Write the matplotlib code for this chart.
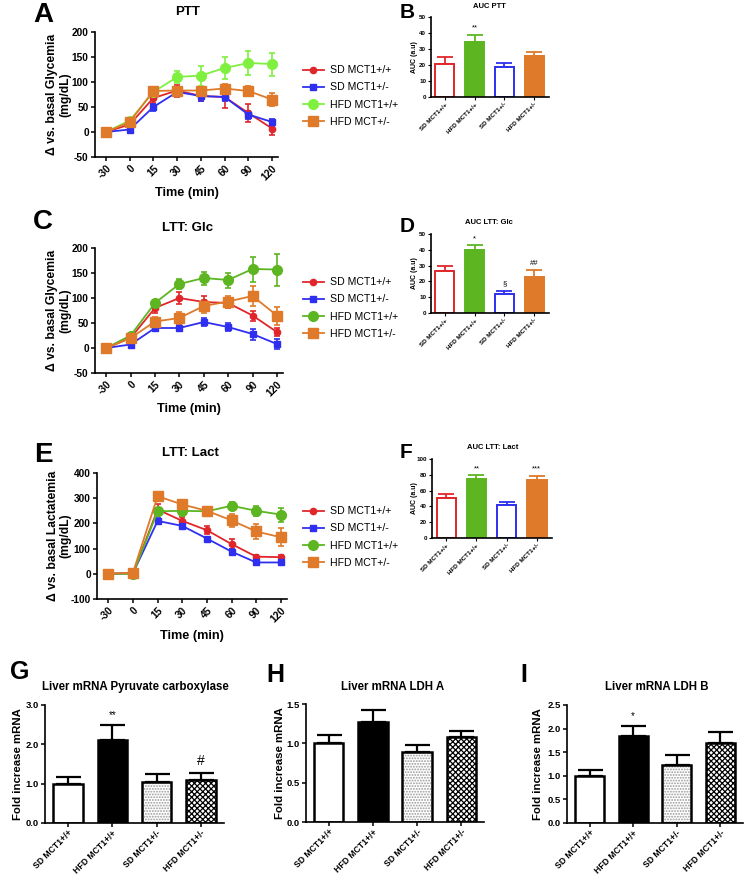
import matplotlib
matplotlib.use("Agg")
import matplotlib.pyplot as plt
from matplotlib.lines import Line2D
import numpy as np

plt.rcParams["font.family"] = ["Liberation Sans", "DejaVu Sans"]
plt.rcParams["font.weight"] = "bold"
plt.rcParams["axes.labelweight"] = "bold"
plt.rcParams["axes.titleweight"] = "bold"
plt.rcParams["axes.linewidth"] = 1.2
plt.rcParams["axes.unicode_minus"] = False
plt.rcParams["hatch.linewidth"] = 0.9

W, H = 746, 876

# ---- data ----
times = ["-30", "0", "15", "30", "45", "60", "90", "120"]
groups = ["SD MCT1+/+", "HFD MCT1+/+", "SD MCT1+/-", "HFD MCT1+/-"]

# PTT (A)
ptt_sd_wt = [0, 15, 68, 83, 72, 70, 38, 7]
ptt_sd_wt_err = [0, 5, 10, 12, 10, 22, 18, 12]
ptt_sd_het = [0, 5, 50, 80, 72, 70, 35, 20]
ptt_sd_het_err = [0, 4, 7, 8, 10, 8, 8, 7]
ptt_hfd_wt = [0, 23, 80, 110, 113, 128, 138, 136]
ptt_hfd_wt_err = [0, 5, 8, 12, 20, 22, 24, 23]
ptt_hfd_het = [0, 20, 82, 83, 83, 87, 82, 65]
ptt_hfd_het_err = [0, 4, 8, 8, 8, 10, 10, 13]

# LTT glucose (C)
glc_sd_wt = [0, 20, 80, 100, 92, 90, 65, 32]
glc_sd_wt_err = [0, 4, 10, 12, 13, 10, 10, 8]
glc_sd_het = [0, 7, 40, 40, 52, 42, 28, 8]
glc_sd_het_err = [0, 4, 5, 6, 8, 8, 11, 10]
glc_hfd_wt = [0, 25, 90, 128, 140, 136, 158, 157]
glc_hfd_wt_err = [0, 5, 5, 10, 13, 15, 25, 32]
glc_hfd_het = [0, 20, 53, 60, 84, 93, 104, 65]
glc_hfd_het_err = [0, 4, 10, 12, 13, 12, 20, 18]

# LTT lactate (E)
lac_sd_wt = [0, 2, 255, 210, 173, 118, 68, 66]
lac_sd_wt_err = [0, 3, 20, 15, 15, 20, 8, 10]
lac_sd_het = [0, 3, 210, 190, 140, 88, 45, 45]
lac_sd_het_err = [0, 3, 12, 10, 8, 10, 5, 5]
lac_hfd_wt = [0, 0, 248, 250, 248, 270, 250, 235]
lac_hfd_wt_err = [0, 3, 15, 10, 10, 15, 20, 28]
lac_hfd_het = [0, 5, 308, 275, 250, 212, 168, 145]
lac_hfd_het_err = [0, 3, 10, 10, 12, 25, 30, 35]

# AUC (B, D, F)
auc_ptt = [20.8, 34.5, 18.5, 25.5]
auc_ptt_err = [4.3, 4.5, 2.5, 2.8]
auc_glc = [26.5, 39.8, 11.9, 23.0]
auc_glc_err = [3.5, 3.2, 2.1, 4.0]
auc_lac = [51, 75, 42, 74]
auc_lac_err = [5, 4.5, 4, 5]

# liver mRNA (G, H, I)
pc_mrna = [1.0, 2.12, 1.03, 1.09]
pc_mrna_err = [0.17, 0.38, 0.22, 0.19]
ldha_mrna = [1.0, 1.27, 0.89, 1.08]
ldha_mrna_err = [0.10, 0.15, 0.09, 0.08]
ldhb_mrna = [1.0, 1.84, 1.23, 1.70]
ldhb_mrna_err = [0.12, 0.21, 0.22, 0.23]

RED = "#e0262b"
BLUE = "#2f2ff0"
LGREEN = "#80f040"
GREEN = "#5cb521"
ORANGE = "#df7a2a"


def box(x0, y0, x1, y1):
    return [x0 / W, 1 - y1 / H, (x1 - x0) / W, (y1 - y0) / H]


def ftext(x, y, s, size, **kw):
    fig.text(x / W, 1 - y / H, s, fontsize=size, ha=kw.pop("ha", "center"),
             va=kw.pop("va", "center"), fontweight=kw.pop("fontweight", "bold"), **kw)


def style_axes(ax, tick_size):
    ax.spines["top"].set_visible(False)
    ax.spines["right"].set_visible(False)
    ax.tick_params(labelsize=tick_size, length=3, width=1.1, pad=1.5)


fig = plt.figure(figsize=(W / 100, H / 100), dpi=100)


def line_panel(rect, series, ylim, yticks, ylabel, labels, leg_y, ylab_x):
    ax = fig.add_axes(rect)
    x = np.arange(len(times))
    styles = [("o", 4.5), ("s", 4.5), ("o", 7), ("s", 7)]
    handles = []
    for (vals, err, col), (mk, ms), lab in zip(series, styles, labels):
        ax.errorbar(x, vals, yerr=err, color=col, marker=mk, markersize=ms,
                    lw=1.3, capsize=2.5, elinewidth=1.2, capthick=1.2)
        handles.append(Line2D([], [], color=col, marker=mk, markersize=ms, lw=1.3, label=lab))
    ax.set_xlim(-0.46, 7.25)
    ax.set_ylim(*ylim)
    ax.set_yticks(yticks)
    ax.set_xticks(x)
    ax.set_xticklabels(times, rotation=45, ha="right", rotation_mode="anchor")
    style_axes(ax, 7.3)
    ax.set_ylabel(ylabel, fontsize=8.7, linespacing=1.1)
    ax.yaxis.label.set_va("center")
    ax.yaxis.set_label_coords(ylab_x, 0.5)
    ax.set_xlabel("Time (min)", fontsize=9.2)
    ax.xaxis.label.set_va("center")
    ax.xaxis.set_label_coords(0.5, -0.29)
    ax.legend(handles=handles, loc="center left", bbox_to_anchor=(293 / W, 1 - leg_y / H),
              bbox_transform=fig.transFigure, frameon=False,
              prop={"weight": "normal", "size": 7.6}, handlelength=2.0,
              labelspacing=0.68, handletextpad=0.6)
    return ax


# A
line_panel(box(95, 32, 278, 157),
           [(ptt_sd_wt, ptt_sd_wt_err, RED), (ptt_sd_het, ptt_sd_het_err, BLUE),
            (ptt_hfd_wt, ptt_hfd_wt_err, LGREEN), (ptt_hfd_het, ptt_hfd_het_err, ORANGE)],
           (-50, 200), range(-50, 201, 50), "\u0394 vs. basal Glycemia\n(mg/dL)",
           ["SD MCT1+/+", "SD MCT1+/-", "HFD MCT1+/+", "HFD MCT+/-"], 96, -0.197)
# C
line_panel(box(95, 248, 283, 373),
           [(glc_sd_wt, glc_sd_wt_err, RED), (glc_sd_het, glc_sd_het_err, BLUE),
            (glc_hfd_wt, glc_hfd_wt_err, GREEN), (glc_hfd_het, glc_hfd_het_err, ORANGE)],
           (-50, 200), range(-50, 201, 50), "\u0394 vs. basal Glycemia\n(mg/dL)",
           ["SD MCT1+/+", "SD MCT1+/-", "HFD MCT1+/+", "HFD MCT1+/-"], 308, -0.192)
# E
line_panel(box(97, 473, 287, 599),
           [(lac_sd_wt, lac_sd_wt_err, RED), (lac_sd_het, lac_sd_het_err, BLUE),
            (lac_hfd_wt, lac_hfd_wt_err, GREEN), (lac_hfd_het, lac_hfd_het_err, ORANGE)],
           (-100, 400), range(-100, 401, 100), "\u0394 vs. basal Lactatemia\n(mg/dL)",
           ["SD MCT1+/+", "SD MCT1+/-", "HFD MCT1+/+", "HFD MCT+/-"], 537, -0.2)


def auc_panel(rect, vals, errs, ylim, yticks, marks, ylab_x):
    ax = fig.add_axes(rect)
    x = np.arange(len(groups))
    cols = [RED, GREEN, BLUE, ORANGE]
    filled = [False, True, False, True]
    for xi, v, e, c, f in zip(x, vals, errs, cols, filled):
        ax.errorbar(xi, v, yerr=[[0], [e]], fmt="none", ecolor=c, capsize=6,
                    elinewidth=1.3, capthick=1.3, zorder=1)
        ax.bar(xi, v, 0.64, facecolor=c if f else "white", edgecolor=c, lw=1.4, zorder=2)
        if marks[xi]:
            ax.text(xi, v + e + (ylim[1] - ylim[0]) * 0.04, marks[xi], ha="center",
                    va="bottom", fontsize=5.5, fontweight="normal")
    ax.set_xlim(-0.47, 3.5)
    ax.set_ylim(*ylim)
    ax.set_yticks(yticks)
    ax.set_xticks(x)
    ax.set_xticklabels(groups, rotation=45, ha="right", rotation_mode="anchor")
    style_axes(ax, 4.5)
    ax.tick_params(length=2, width=0.8)
    ax.set_ylabel("AUC (a.u)", fontsize=5)
    ax.yaxis.label.set_va("center")
    ax.yaxis.set_label_coords(ylab_x, 0.5)
    return ax


auc_panel(box(431, 17, 549, 97), auc_ptt, auc_ptt_err, (0, 50), range(0, 51, 10),
          ["", "**", "", ""], -0.144)
auc_panel(box(431, 234, 549, 313), auc_glc, auc_glc_err, (0, 50), range(0, 51, 10),
          ["", "*", "\u00a7", "##"], -0.144)
auc_panel(box(432, 459, 552, 538), auc_lac, auc_lac_err, (0, 100), range(0, 101, 20),
          ["", "**", "", "***"], -0.15)


def mrna_panel(rect, vals, errs, ylim, yticks, marks, ylab_x):
    ax = fig.add_axes(rect)
    x = np.arange(len(groups))
    for xi, v, e in zip(x, vals, errs):
        ax.errorbar(xi, v, yerr=[[0], [e]], fmt="none", ecolor="black", capsize=9,
                    elinewidth=1.6, capthick=1.6, zorder=1)
    w = 0.66
    ax.bar(x[0], vals[0], w, facecolor="white", edgecolor="black", lw=1.8, zorder=2)
    ax.bar(x[1], vals[1], w, facecolor="black", edgecolor="black", lw=1.8, zorder=2)
    ax.bar(x[2], vals[2], w, facecolor="white", edgecolor="#999999", hatch="......",
           lw=0, zorder=2)
    ax.bar(x[2], vals[2], w, facecolor="none", edgecolor="black", lw=1.8, zorder=3)
    ax.bar(x[3], vals[3], w, facecolor="white", edgecolor="black", hatch="xxxxxx",
           lw=1.8, zorder=2)
    for xi, v, e, m in zip(x, vals, errs, marks):
        if m:
            size = 10 if m == "#" else 7
            ax.text(xi, v + e + (ylim[1] - ylim[0]) * 0.04, m, ha="center", va="bottom",
                    fontsize=size, fontweight="normal")
    ax.set_xlim(-0.52, 3.52)
    ax.set_ylim(*ylim)
    ax.set_yticks(yticks)
    ax.set_yticklabels(["{:.1f}".format(t) for t in yticks])
    ax.set_xticks(x)
    ax.set_xticklabels(groups, rotation=45, ha="right", rotation_mode="anchor")
    style_axes(ax, 6.8)
    ax.tick_params(axis="x", labelsize=6.2, pad=1)
    ax.set_ylabel("Fold increase mRNA", fontsize=8.2)
    ax.yaxis.label.set_va("center")
    ax.yaxis.set_label_coords(ylab_x, 0.5)
    return ax


mrna_panel(box(45, 705, 224, 823), pc_mrna, pc_mrna_err, (0, 3), [0, 1, 2, 3],
           ["", "**", "", "#"], -0.151)
mrna_panel(box(306, 704, 484, 822), ldha_mrna, ldha_mrna_err, (0, 1.5), [0, 0.5, 1.0, 1.5],
           ["", "", "", ""], -0.146)
mrna_panel(box(567, 705, 743, 823), ldhb_mrna, ldhb_mrna_err, (0, 2.5),
           [0, 0.5, 1.0, 1.5, 2.0, 2.5], ["", "*", "", ""], -0.165)

# titles
ftext(188, 12, "PTT", 9.5)
ftext(188, 228, "LTT: Glc", 9.5)
ftext(190, 453, "LTT: Lact", 9.5)
ftext(489, 6, "AUC PTT", 5.5)
ftext(489, 222, "AUC LTT: Glc", 5.5)
ftext(493, 447, "AUC LTT: Lact", 5.5)
ftext(135, 687, "Liver mRNA Pyruvate carboxylase", 8.3)
ftext(393, 687, "Liver mRNA LDH A", 8.3)
ftext(657, 687, "Liver mRNA LDH B", 8.3)

# panel letters
ftext(43, 15, "A", 20)
ftext(407, 13, "B", 15)
ftext(43, 222, "C", 20)
ftext(407, 227, "D", 15)
ftext(43, 455, "E", 20)
ftext(406, 453, "F", 15)
ftext(20, 672, "G", 18)
ftext(275, 675, "H", 18)
ftext(524, 675, "I", 18)

fig.savefig("out.png", dpi=100)
